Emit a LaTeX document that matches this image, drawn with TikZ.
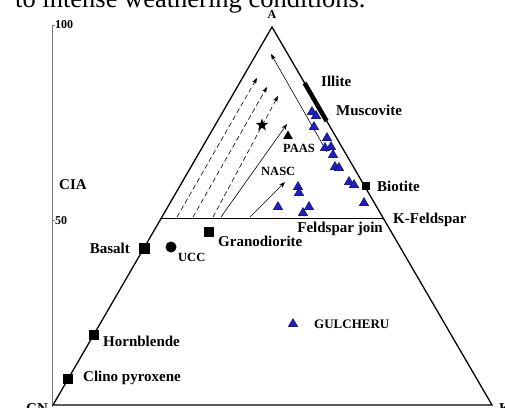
\documentclass[tikz,border=0pt]{standalone}
\usepackage{fontspec}
\setmainfont{Liberation Serif}
\usetikzlibrary{shapes.geometric,arrows.meta}
\definecolor{gblue}{RGB}{30,30,195}
\definecolor{gnavy}{RGB}{15,15,90}
\definecolor{axgray}{RGB}{120,120,120}
\begin{document}
\begin{tikzpicture}[x=1pt,y=-1pt,
  lbl/.style={font=\fontsize{15}{15}\selectfont\bfseries, inner sep=0},
  slbl/.style={font=\fontsize{12.5}{12.5}\selectfont\bfseries, inner sep=0},
  tri/.style={regular polygon, regular polygon sides=3, minimum size=11pt, inner sep=0, fill=gblue, draw=gnavy, line width=0.4pt},
  blk/.style={regular polygon, regular polygon sides=3, minimum size=11pt, inner sep=0, fill=black},
  sqm/.style={rectangle, fill=black, inner sep=0, minimum size=#1},
  sqm/.default=10pt,
  edge/.style={line width=1.3pt},
  arr/.style={-{Stealth[length=6pt,width=4.5pt]}, line width=0.6pt},
  dsh/.style={arr, dash pattern=on 5pt off 3pt}]
\useasboundingbox (0,0) rectangle (505,407);
\clip (0,0) rectangle (505,407);

% cropped caption line
\node[anchor=base west, inner sep=0, font=\fontsize{26.5}{26.5}\selectfont] (cap) at (15,7) {to intense weathering conditions.};

% CIA axis
\coordinate (ax0) at (52,407);
\coordinate (ax100) at (52,25);
\draw[axgray, line width=0.8pt] (ax0) -- (ax100) -- ++(3,0);
\draw[axgray, line width=0.8pt] (52,220) -- (55,220);
\node[anchor=west, font=\fontsize{12}{12}\selectfont\bfseries, inner sep=0] (t100) at (55,25) {100};
\node[anchor=west, font=\fontsize{12}{12}\selectfont\bfseries, inner sep=0] (t50) at (55,221) {50};
\node[lbl, anchor=west] (cia) at (59,185) {CIA};

% triangle
\coordinate (A) at (272,27);
\coordinate (CN) at (53,405);
\coordinate (K) at (492,405);
\draw[edge, line join=miter] (CN) -- (A) -- (K) -- cycle;
\node[font=\fontsize{12}{12}\selectfont\bfseries, inner sep=0] (lA) at (272,15) {A};
\node[lbl, anchor=base west] (lCN) at (26,413) {CN};
\node[lbl, anchor=base west] (lK) at (499,413) {K};

% feldspar join
\coordinate (fjL) at (161,218);
\coordinate (fjR) at (383,218);
\draw[line width=1pt] (fjL) -- (fjR);
\node[lbl, anchor=north east] (fjlab) at (383,222) {Feldspar join};
\node[lbl, anchor=west] (kfs) at (393,220) {K-Feldspar};

% illite / muscovite thick bar
\coordinate (il1) at (304.5,83);
\coordinate (il2) at (326.6,121);
\draw[line width=4.5pt] (il1) -- (il2);
\node[lbl, anchor=west] (lill) at (321,81) {Illite};
\node[lbl, anchor=west] (lmus) at (336,110) {Muscovite};

% weathering arrows
\coordinate (d1s) at (177,217); \coordinate (d1e) at (257,78);
\coordinate (d2s) at (193,217); \coordinate (d2e) at (267,87);
\coordinate (d3s) at (213,217); \coordinate (d3e) at (278,96);
\coordinate (s1s) at (221,217); \coordinate (s1e) at (287,124);
\coordinate (s2s) at (250,217); \coordinate (s2e) at (285,182);
\coordinate (s3s) at (327,152); \coordinate (s3e) at (271,54);
\draw[dsh] (d1s) -- (d1e);
\draw[dsh] (d2s) -- (d2e);
\draw[dsh] (d3s) -- (d3e);
\draw[arr] (s1s) -- (s1e);
\draw[arr] (s2s) -- (s2e);
\draw[arr] (s3s) -- (s3e);

% star, PAAS, NASC
\node[star, star points=5, star point ratio=2.4, fill=black, inner sep=0, minimum size=13pt] (star) at (262,125) {};
\node[blk] (paas) at (288,136) {};
\node[slbl, anchor=west] (lpaas) at (283,148) {PAAS};
\node[slbl, anchor=west] (lnasc) at (261,171) {NASC};

% sample triangles
\foreach \x/\y [count=\i] in {312/112,316/116,314/127,327/138,325/148,331/147,333/155,335/167,339/168,349/182,354/185,364/203,298/187,299/193,278/207,309/207,303/213}
  \node[tri] (g\i) at (\x,\y) {};

% mineral / rock markers
\node[sqm=8pt] (bio) at (366,186) {};
\node[lbl, anchor=west] (lbio) at (377,186) {Biotite};
\node[sqm=10pt] (gran) at (209,232) {};
\node[lbl, anchor=west] (lgran) at (218,241) {Granodiorite};
\node[circle, fill=black, inner sep=0, minimum size=11pt] (ucc) at (171,247) {};
\node[slbl, anchor=west] (lucc) at (178,257) {UCC};
\node[sqm=11pt] (bas) at (144,248) {};
\node[lbl, anchor=east] (lbas) at (130,248) {Basalt};
\node[sqm=10pt] (horn) at (94,335) {};
\node[lbl, anchor=west] (lhorn) at (103,341) {Hornblende};
\node[sqm=10pt] (clino) at (68,379) {};
\node[lbl, anchor=west] (lclino) at (83,378) {Clino pyroxene};

% legend
\node[tri] (leg) at (293,324) {};
\node[slbl, anchor=west, font=\fontsize{13}{13}\selectfont\bfseries] (lleg) at (314,324) {GULCHERU};
\end{tikzpicture}
\end{document}
